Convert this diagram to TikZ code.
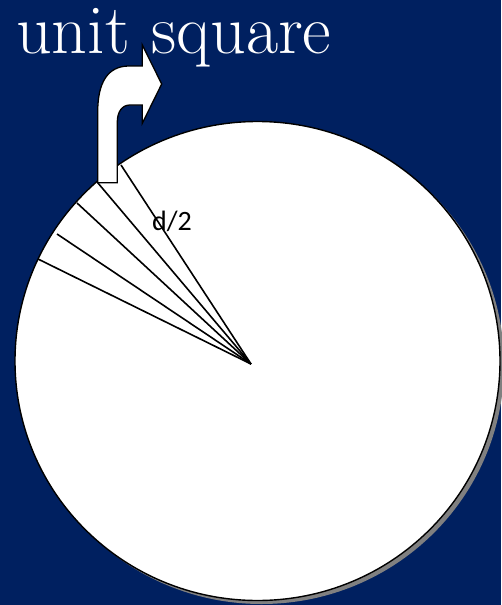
\documentclass[tikz,border=0pt]{standalone}
\usepackage{fontspec}
\newfontfamily\labelfont{Carlito}
\usepackage{tikz}
\usetikzlibrary{positioning,calc}
\definecolor{slidenavy}{HTML}{002060}
\tikzset{
	disc/.style={draw=black, line width=1.4pt, fill=white},
	discshadow/.style={fill=black!50},
	ray/.style={draw=black, line width=1.6pt},
	bentarr/.style={draw=black, line width=1.3pt, fill=white, line join=miter},
	titletext/.style={anchor=base west, text=white, inner sep=0pt, font=\fontsize{70}{76}\selectfont},
	halflabel/.style={inner sep=0pt, font=\labelfont\fontsize{28}{32}\selectfont}
}

\begin{document}
\begin{tikzpicture}[x=1pt, y=-1pt]
	% slide background
	\fill[slidenavy] (0,0) rectangle (501,605);
	\useasboundingbox (0,0) rectangle (501,605);
	% the disc with its shadow
	\fill[discshadow] (261.5,364.5) ellipse [x radius=242.5, y radius=239.5];
	\draw[disc] (257.5,361) ellipse [x radius=242.5, y radius=239.5];
	% rays from the centre point to the rim
	\coordinate (apex) at (251,364);
	\coordinate (e1) at (121,165);
	\coordinate (e2) at (97.7,182.7);
	\coordinate (e3) at (77,203);
	\coordinate (e4) at (57,234);
	\coordinate (e5) at (38,259);
	\foreach \e in {e1,e2,e3,e4,e5}
		\draw[ray] (\e) -- (apex);
	% bent arrow pointing out of the disc
	\draw[bentarr] (e2) -- (97.7,112) .. controls (97.7,82) and (108,66) .. (129,66)
		-- (142.3,66) -- (142.3,45) -- (161.7,84) -- (142.3,123.3) -- (142.3,105)
		-- (130,105) .. controls (122,105) and (117.3,112) .. (117.3,122)
		-- (117.3,182.7) -- cycle;
	\node[halflabel] (half) at (172,221) {d/2};
	\node[titletext] (title) at (16,53) {unit square};
\end{tikzpicture}
\end{document}
